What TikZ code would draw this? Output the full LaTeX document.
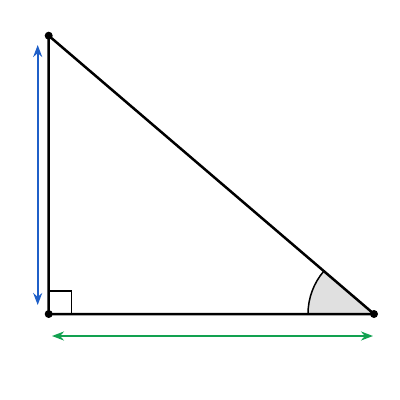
\documentclass[tikz,border=0pt]{standalone}
\usetikzlibrary{arrows.meta}
\definecolor{dimblue}{HTML}{1F5FC8}
\definecolor{dimgreen}{HTML}{12A150}
\definecolor{anglegray}{HTML}{E0E0E0}
\tikzset{
  side/.style={line width=2.5pt, line join=round},
  dot/.style={circle, fill=black, inner sep=0pt, minimum size=8pt},
  dimarrow/.style={line width=2.2pt, {Stealth[length=12pt,width=9pt]}-{Stealth[length=12pt,width=9pt]}},
  thin/.style={line width=1.5pt}
}
\begin{document}
\begin{tikzpicture}[x=1pt,y=-1pt]
\useasboundingbox (0,0) rectangle (400,400);
\coordinate (A) at (48.7,35.7);
\coordinate (B) at (48.7,314);
\coordinate (C) at (374,314);
% angle at C
\fill[anglegray] (C) -- ++(-66,0) arc[start angle=180, end angle={180+atan(278.3/325.3)}, radius=66] -- cycle;
\draw[thin] (C) ++(-66,0) arc[start angle=180, end angle={180+atan(278.3/325.3)}, radius=66];
% right angle square
\draw[thin] (B) ++(0,-23) -| ++(23,23);
\draw[side] (A) -- (B) -- (C) -- cycle;
\node[dot] (a) at (A) {};
\node[dot] (b) at (B) {};
\node[dot] (c) at (C) {};
\coordinate (v1) at (37.7,45);
\coordinate (v2) at (37.7,305);
\coordinate (h1) at (52,336);
\coordinate (h2) at (373,336);
\draw[dimarrow, dimblue] (v1) -- (v2);
\draw[dimarrow, dimgreen] (h1) -- (h2);
\end{tikzpicture}
\end{document}
